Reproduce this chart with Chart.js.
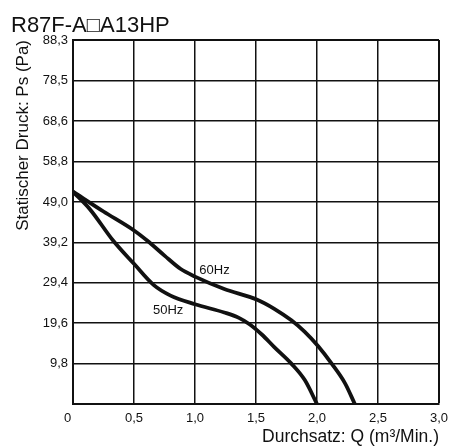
<!DOCTYPE html>
<html>
<head>
<meta charset="utf-8">
<script src="https://cdn.jsdelivr.net/npm/chart.js@4.4.0/dist/chart.umd.min.js"></script>
<style>
  html, body { margin: 0; padding: 0; background: #fff; }
</style>
</head>
<body>
<canvas id="myChart" width="450" height="446"></canvas>
<script>
const chartTitle = 'R87F-A\u25A1A13HP';

// flow Q (m3/min) and static pressure Ps (Pa)
const q60 = [0, 0.25, 0.50, 0.61, 0.75, 0.88, 1.0, 1.24, 1.51, 1.65, 1.79, 1.90, 2.01, 2.12, 2.23, 2.31];
const ps60 = [51.5, 46.7, 42.1, 39.6, 36.0, 32.8, 30.9, 27.9, 25.3, 23.1, 20.3, 17.5, 14.0, 9.8, 5.0, 0];
const q50 = [0, 0.14, 0.33, 0.50, 0.66, 0.80, 1.0, 1.24, 1.36, 1.45, 1.55, 1.65, 1.79, 1.90, 2.0];
const ps50 = [51.5, 47.2, 39.6, 34.0, 28.9, 26.3, 24.2, 22.2, 20.9, 19.3, 16.8, 13.8, 9.8, 5.8, 0];

const xTicks = [0, 0.5, 1.0, 1.5, 2.0, 2.5, 3.0];
const yTicks = [0, 9.8, 19.6, 29.4, 39.2, 49.0, 58.8, 68.6, 78.5, 88.3];

const curveLabels = [
  { text: '60Hz', q: 1.16, ps: 32.4 },
  { text: '50Hz', q: 0.78, ps: 22.7 }
];

const fontFamily = '"Liberation Sans", Arial, sans-serif';
const ink = '#111';

function toPoints(xs, ys) {
  return xs.map((x, i) => ({ x: x, y: ys[i] }));
}

function comma(v) {
  return v.toFixed(1).replace('.', ',');
}

const extraText = {
  id: 'extraText',
  afterDatasetsDraw(chart) {
    const { ctx, scales: { x, y } } = chart;
    ctx.save();
    ctx.fillStyle = ink;
    ctx.font = '13px ' + fontFamily;
    ctx.textAlign = 'center';
    ctx.textBaseline = 'middle';
    curveLabels.forEach(l => {
      ctx.fillText(l.text, x.getPixelForValue(l.q), y.getPixelForValue(l.ps));
    });
    ctx.font = '22px ' + fontFamily;
    ctx.textAlign = 'left';
    ctx.textBaseline = 'alphabetic';
    ctx.fillText(chartTitle, 11, 32);
    ctx.restore();
  }
};

const lineStyle = {
  borderColor: ink,
  borderWidth: 3.8,
  pointRadius: 0,
  fill: false,
  cubicInterpolationMode: 'monotone'
};

new Chart(document.getElementById('myChart'), {
  type: 'line',
  data: {
    datasets: [
      Object.assign({ label: '60Hz', data: toPoints(q60, ps60) }, lineStyle),
      Object.assign({ label: '50Hz', data: toPoints(q50, ps50) }, lineStyle)
    ]
  },
  options: {
    responsive: false,
    animation: false,
    layout: { padding: { top: 40, right: 11, bottom: 0, left: 0 } },
    plugins: {
      legend: { display: false },
      tooltip: { enabled: false }
    },
    scales: {
      x: {
        type: 'linear',
        min: 0,
        max: 3,
        afterBuildTicks: s => { s.ticks = xTicks.map(v => ({ value: v })); },
        afterFit: s => {
          s.height = 42;
          // keep the plot edge where the original has it, labels may overhang
          s.paddingLeft = 0;
          s.paddingRight = 0;
        },
        ticks: {
          // the corner "0" sits a little left of the axis, as in the original
          callback: v => v === 0 ? '0   ' : comma(v),
          color: ink,
          padding: 7,
          maxRotation: 0,
          autoSkip: false,
          font: { family: fontFamily, size: 13 }
        },
        grid: {
          color: ink,
          lineWidth: c => c.tick && c.tick.value === 3 ? 2 : 1.5,
          drawTicks: false
        },
        border: { color: ink, width: 2 },
        title: {
          display: true,
          text: 'Durchsatz: Q (m\u00B3/Min.)',
          align: 'end',
          color: ink,
          padding: 0,
          font: { family: fontFamily, size: 17.5, lineHeight: 1 }
        }
      },
      y: {
        type: 'linear',
        min: 0,
        max: 88.3,
        afterBuildTicks: s => { s.ticks = yTicks.map(v => ({ value: v })); },
        afterFit: s => { s.width = 73; },
        ticks: {
          callback: v => v === 0 ? '' : comma(v),
          color: ink,
          padding: 5,
          autoSkip: false,
          font: { family: fontFamily, size: 13 }
        },
        grid: {
          color: ink,
          lineWidth: c => c.tick && c.tick.value === 88.3 ? 2 : 1.5,
          drawTicks: false
        },
        border: { color: ink, width: 2 },
        title: {
          display: true,
          text: 'Statischer Druck: Ps (Pa)',
          align: 'end',
          color: ink,
          padding: { top: 15, bottom: 0 },
          font: { family: fontFamily, size: 17, lineHeight: 1 }
        }
      }
    }
  },
  plugins: [extraText]
});
</script>
</body>
</html>
